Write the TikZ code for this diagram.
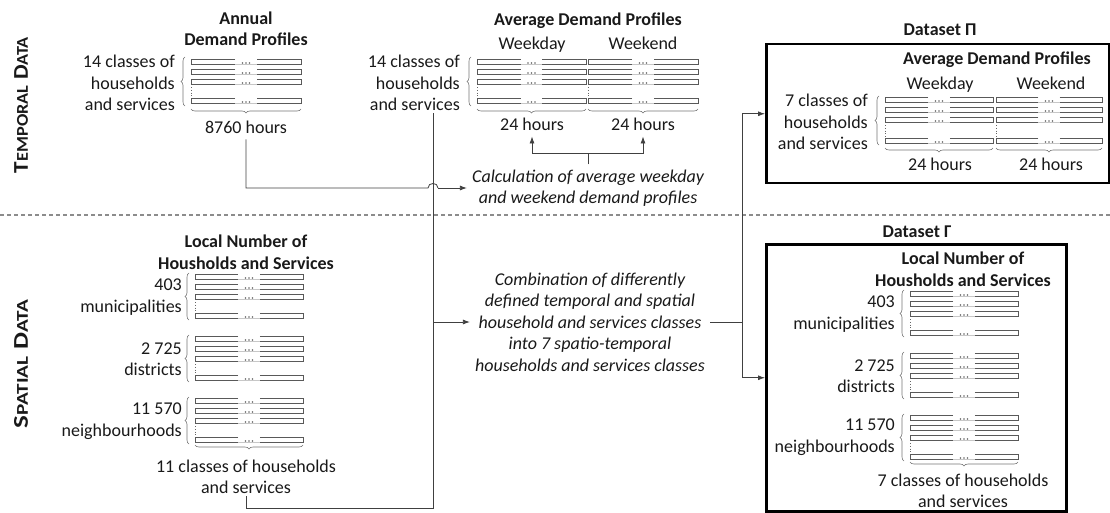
\documentclass[tikz,border=0pt]{standalone}
\usepackage{fontspec}
\setmainfont{Carlito}
\usepackage{graphicx}
\usetikzlibrary{arrows.meta,decorations.pathreplacing}

\newcommand\DL[3]{%
  \pgfmathsetmacro\xa{#1+0.40*(#2-#1)}%
  \pgfmathsetmacro\xb{#1+0.60*(#2-#1)}%
  \pgfmathsetmacro\xm{(#1+#2)/2-3.5}%
  \draw[rowline] (\xa,#3-2.5) -- (#1,#3-2.5) -- (#1,#3+2.5) -- (\xa,#3+2.5);
  \draw[rowline] (\xb,#3-2.5) -- (#2,#3-2.5) -- (#2,#3+2.5) -- (\xb,#3+2.5);
  \draw[gapline] (\xa,#3+2.5) -- (\xb,#3+2.5);
  \foreach \dd in {0,1,2} \fill[dotc] (\xm+3.5*\dd,#3+1) circle[radius=0.8];
}
\newcommand\DB[6]{%
  \DL{#1}{#2}{#3}\DL{#1}{#2}{#4}\DL{#1}{#2}{#5}\DL{#1}{#2}{#6}%
  \draw[dotline] (#1,#5+5) -- (#1,#6-4);
}
\newcommand\SCx[2]{{\fontsize{21}{21}\selectfont #1}{\fontsize{16.5}{16.5}\selectfont #2}}

\begin{document}
\begin{tikzpicture}[x=1pt,y=-1pt,
  txt/.style={font=\fontsize{18}{21.5}\selectfont, inner sep=2pt, text=black!90},
  one/.style={text height=12.5pt, text depth=4pt},
  ttl/.style={font=\fontsize{18}{21.5}\selectfont\bfseries, inner sep=2pt, text=black!90},
  itx/.style={font=\fontsize{18}{21.5}\selectfont\itshape, inner sep=5pt, text=black!90, align=center},
  side/.style={font=\bfseries, inner sep=0pt, rotate=90, text=black!90},
  conn/.style={draw=black!75, line width=0.8pt},
  arr/.style={conn, -{Latex[length=7pt,width=5pt]}},
  rowline/.style={draw=black!65, line width=0.7pt},
  gapline/.style={draw=black!22, line width=0.5pt},
  dotc/.style={fill=black!60},
  dotline/.style={draw=black!60, dotted, line width=0.8pt},
  brc/.style={draw=black!55, line width=0.6pt, decorate, decoration={brace, amplitude=4pt}},
  dsbox/.style={draw=black, line width=2.5pt, inner sep=0pt, anchor=north west},
  sep/.style={draw=black!45, line width=1.3pt, dash pattern=on 4pt off 3pt}
]
\useasboundingbox (0,0) rectangle (1110,513);

% separator
\draw[sep] (0,215) -- (1110,215);

% side labels
\node[side] (temporal) at (21,105) {\resizebox{136pt}{\height}{\SCx{T}{EMPORAL}\hspace{5pt}\SCx{D}{ATA}}};
\node[side] (spatial) at (21,364) {\resizebox{128pt}{\height}{\SCx{S}{PATIAL}\hspace{5pt}\SCx{D}{ATA}}};

% ---------- Annual demand profiles ----------
\node[ttl, align=center] (annT) at (246,29) {Annual\\Demand Profiles};
\node[txt, align=right, anchor=east] (annL) at (177,83) {14 classes of\\households\\and services};
\DB{191}{301}{62}{72}{82}{101}
\draw[brc] (185,106) -- (185,57);
\draw[brc] (301,109) -- (191,109);
\node[txt, one] (h8760) at (246,129) {8760 hours};

% ---------- Average demand profiles ----------
\node[ttl] (avgT) at (588,21) {Average Demand Profiles};
\node[txt, one] (wdT) at (532,45) {Weekday};
\node[txt, one] (weT) at (643,45) {Weekend};
\node[txt, align=right, anchor=east] (avgL) at (462,83) {14 classes of\\households\\and services};
\DB{477}{586}{62}{72}{82}{101}
\DB{588}{698}{62}{72}{82}{101}
\draw[brc] (471,106) -- (471,57);
\draw[brc] (586,109) -- (477,109);
\draw[brc] (698,109) -- (588,109);
\node[txt, one] (wd24) at (532,126) {24 hours};
\node[txt, one] (we24) at (643,126) {24 hours};

\node[itx] (calc) at (588,188) {Calculation of average weekday\\and weekend demand profiles};

% ---------- Local number (spatial) ----------
\node[ttl, align=center] (locT) at (246,252) {Local Number of\\Housholds and Services};
\node[txt, align=right, anchor=east] (m403) at (184,297) {403\\municipalities};
\node[txt, align=right, anchor=east] (d2725) at (184,359) {2 725\\districts};
\node[txt, align=right, anchor=east] (n11570) at (184,421) {11 570\\neighbourhoods};
\DB{195}{303}{277}{287}{297}{316}
\DB{195}{303}{339}{349}{359}{378}
\DB{195}{303}{401}{411}{421}{440}
\draw[brc] (189,320) -- (189,273);
\draw[brc] (189,382) -- (189,335);
\draw[brc] (189,444) -- (189,397);
\draw[brc] (303,445) -- (195,445);
\node[txt, align=center] (l11) at (246,477) {11 classes of households\\and services};

\node[itx] (comb) at (590,322) {Combination of differently\\defined temporal and spatial\\household and services classes\\into 7 spatio-temporal\\households and services classes};

% ---------- Dataset Pi ----------
\node[ttl] (piT) at (940,30) {Dataset Π};
\node[dsbox, minimum width=342.5pt, minimum height=139pt] (pibox) at (765,43) {};
\node[ttl] (pavgT) at (997,60) {Average Demand Profiles};
\node[txt, one] (pwdT) at (940,85) {Weekday};
\node[txt, one] (pweT) at (1051,85) {Weekend};
\node[txt, align=right, anchor=east] (pL) at (870,122) {7 classes of\\households\\and services};
\DB{885}{993}{100}{110}{120}{141}
\DB{996}{1102}{100}{110}{120}{141}
\draw[brc] (879,145) -- (879,96);
\draw[brc] (993,148) -- (885,148);
\draw[brc] (1102,148) -- (996,148);
\node[txt, one] (pwd24) at (940,166) {24 hours};
\node[txt, one] (pwe24) at (1051,166) {24 hours};

% ---------- Dataset Gamma ----------
\node[ttl] (gT) at (917,232) {Dataset Γ};
\node[dsbox, minimum width=300pt, minimum height=267pt] (gbox) at (765,243) {};
\node[ttl, align=center] (glocT) at (963,269) {Local Number of\\Housholds and Services};
\node[txt, align=right, anchor=east] (g403) at (897,314) {403\\municipalities};
\node[txt, align=right, anchor=east] (g2725) at (897,376) {2 725\\districts};
\node[txt, align=right, anchor=east] (g11570) at (897,437) {11 570\\neighbourhoods};
\DB{910}{1018}{294}{304}{314}{333}
\DB{910}{1018}{356}{366}{376}{395}
\DB{910}{1018}{418}{428}{438}{457}
\draw[brc] (904,337) -- (904,290);
\draw[brc] (904,399) -- (904,352);
\draw[brc] (904,461) -- (904,414);
\draw[brc] (1018,462) -- (910,462);
\node[txt, align=center] (g7) at (963,491) {7 classes of households\\and services};

% ---------- connectors ----------
\coordinate (hopL) at (calc.west -| 428,0);
\coordinate (hopR) at (calc.west -| 438,0);
\draw[conn] (h8760.south) |- (hopL) .. controls ([yshift=6pt]hopL) and ([yshift=6pt]hopR) .. (hopR);
\draw[arr] (hopR) -- (calc.west);

\coordinate (trunkTop) at (avgL.south -| 433,0);
\coordinate (trunkBot) at (433,508);
\coordinate (trunkMid) at (comb.west -| 433,0);
\draw[conn] (l11.south) |- (trunkBot) -- (trunkTop);
\draw[arr] (trunkMid) -- (comb.west);

\coordinate (cUp) at ([yshift=11pt]calc.north);
\draw[conn] (calc.north) -- (cUp);
\draw[arr] (cUp) -| (wd24.south);
\draw[arr] (cUp) -| (we24.south);

\coordinate (split) at (comb.east -| 742,0);
\draw[conn] (comb.east) -- (split);
\draw[arr] (split) |- (pibox.west);
\draw[arr] (split) |- (gbox.west);
\end{tikzpicture}
\end{document}
